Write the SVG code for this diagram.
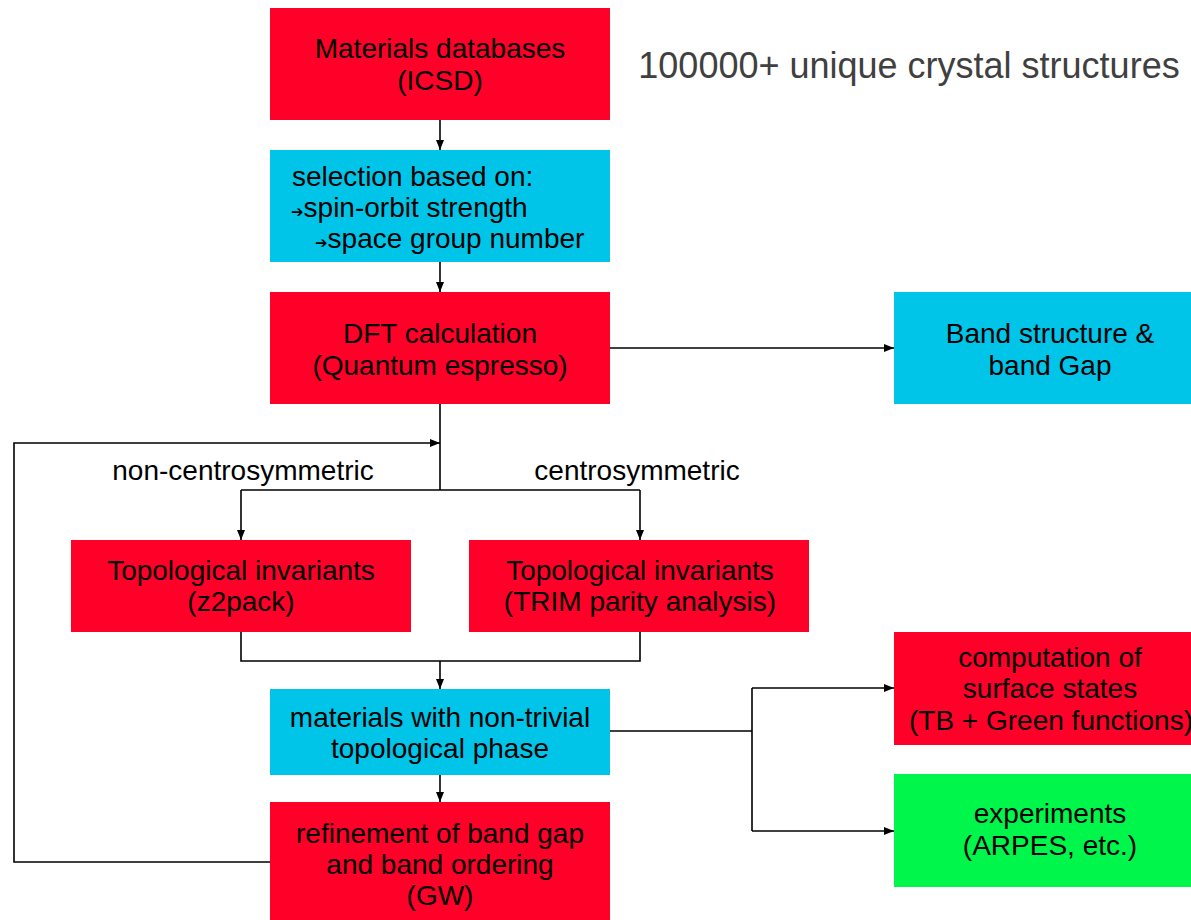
<svg xmlns="http://www.w3.org/2000/svg" width="1191" height="920" viewBox="0 0 1191 920">
<style>
.red{fill:#FF0028}
.cyan{fill:#00C5E8}
.green{fill:#00F64A}
text{font-family:"Liberation Sans",Arial,sans-serif;font-size:28px;fill:#000}
.c{text-anchor:middle}
.ln{fill:none;stroke:#000;stroke-width:1.6}
.sym{font-family:"DejaVu Sans",sans-serif;font-size:15px;font-weight:bold}
</style>
<defs>
<marker id="ah" markerWidth="10" markerHeight="8" refX="10" refY="4" orient="auto" markerUnits="userSpaceOnUse">
<path d="M0,0 L10,4 L0,8 Z" fill="#000"/>
</marker>
</defs>
<rect width="1191" height="920" fill="#fff"/>
<text x="909" y="78" class="c" style="font-size:36px;fill:#404040">100000+ unique crystal structures</text>
<g id="connectors">
<path class="ln" d="M440,120 V150" marker-end="url(#ah)"/>
<path class="ln" d="M440,262 V292" marker-end="url(#ah)"/>
<path class="ln" d="M610,348 H894" marker-end="url(#ah)"/>
<path class="ln" d="M440,404 V490 M241,490 H640"/>
<path class="ln" d="M241,490 V540" marker-end="url(#ah)"/>
<path class="ln" d="M640,490 V540" marker-end="url(#ah)"/>
<path class="ln" d="M270,862 H14 V443 H440" marker-end="url(#ah)"/>
<path class="ln" d="M241,632 V661 H640 V632"/>
<path class="ln" d="M440,661 V689" marker-end="url(#ah)"/>
<path class="ln" d="M440,775 V802" marker-end="url(#ah)"/>
<path class="ln" d="M610,731 H752 M752,688 V831"/>
<path class="ln" d="M752,688 H894" marker-end="url(#ah)"/>
<path class="ln" d="M752,831 H894" marker-end="url(#ah)"/>
<text x="243" y="480" class="c">non-centrosymmetric</text>
<text x="637" y="480" class="c">centrosymmetric</text>
</g>
<g id="n_materials">
<rect class="red" x="270" y="8" width="340" height="112"/>
<text x="440" y="58" class="c">Materials databases</text>
<text x="440" y="90" class="c">(ICSD)</text>
</g>
<g id="n_selection">
<rect class="cyan" x="270" y="150" width="340" height="112"/>
<text x="292" y="186">selection based on:</text>
<text x="291" y="217"><tspan class="sym">➔</tspan>spin-orbit strength</text>
<text x="315" y="248"><tspan class="sym">➔</tspan>space group number</text>
</g>
<g id="n_dft">
<rect class="red" x="270" y="292" width="340" height="112"/>
<text x="440" y="343" class="c">DFT calculation</text>
<text x="440" y="375" class="c">(Quantum espresso)</text>
</g>
<g id="n_band">
<rect class="cyan" x="894" y="292" width="310" height="112"/>
<text x="1050" y="343" class="c">Band structure &amp;</text>
<text x="1050" y="375" class="c">band Gap</text>
</g>
<g id="n_z2pack">
<rect class="red" x="71" y="540" width="340" height="92"/>
<text x="241" y="580" class="c">Topological invariants</text>
<text x="241" y="611" class="c">(z2pack)</text>
</g>
<g id="n_trim">
<rect class="red" x="469" y="540" width="340" height="92"/>
<text x="640" y="580" class="c">Topological invariants</text>
<text x="640" y="611" class="c">(TRIM parity analysis)</text>
</g>
<g id="n_nontrivial">
<rect class="cyan" x="270" y="689" width="340" height="86"/>
<text x="440" y="727" class="c">materials with non-trivial</text>
<text x="440" y="758" class="c">topological phase</text>
</g>
<g id="n_refinement">
<rect class="red" x="270" y="802" width="340" height="130"/>
<text x="440" y="843" class="c">refinement of band gap</text>
<text x="440" y="874" class="c">and band ordering</text>
<text x="440" y="905" class="c">(GW)</text>
</g>
<g id="n_surface">
<rect class="red" x="894" y="632" width="310" height="113"/>
<text x="1050" y="667" class="c">computation of</text>
<text x="1050" y="698" class="c">surface states</text>
<text x="1051" y="730" class="c">(TB + Green functions)</text>
</g>
<g id="n_experiments">
<rect class="green" x="894" y="774" width="310" height="113"/>
<text x="1050" y="823" class="c">experiments</text>
<text x="1050" y="855" class="c">(ARPES, etc.)</text>
</g>
</svg>
